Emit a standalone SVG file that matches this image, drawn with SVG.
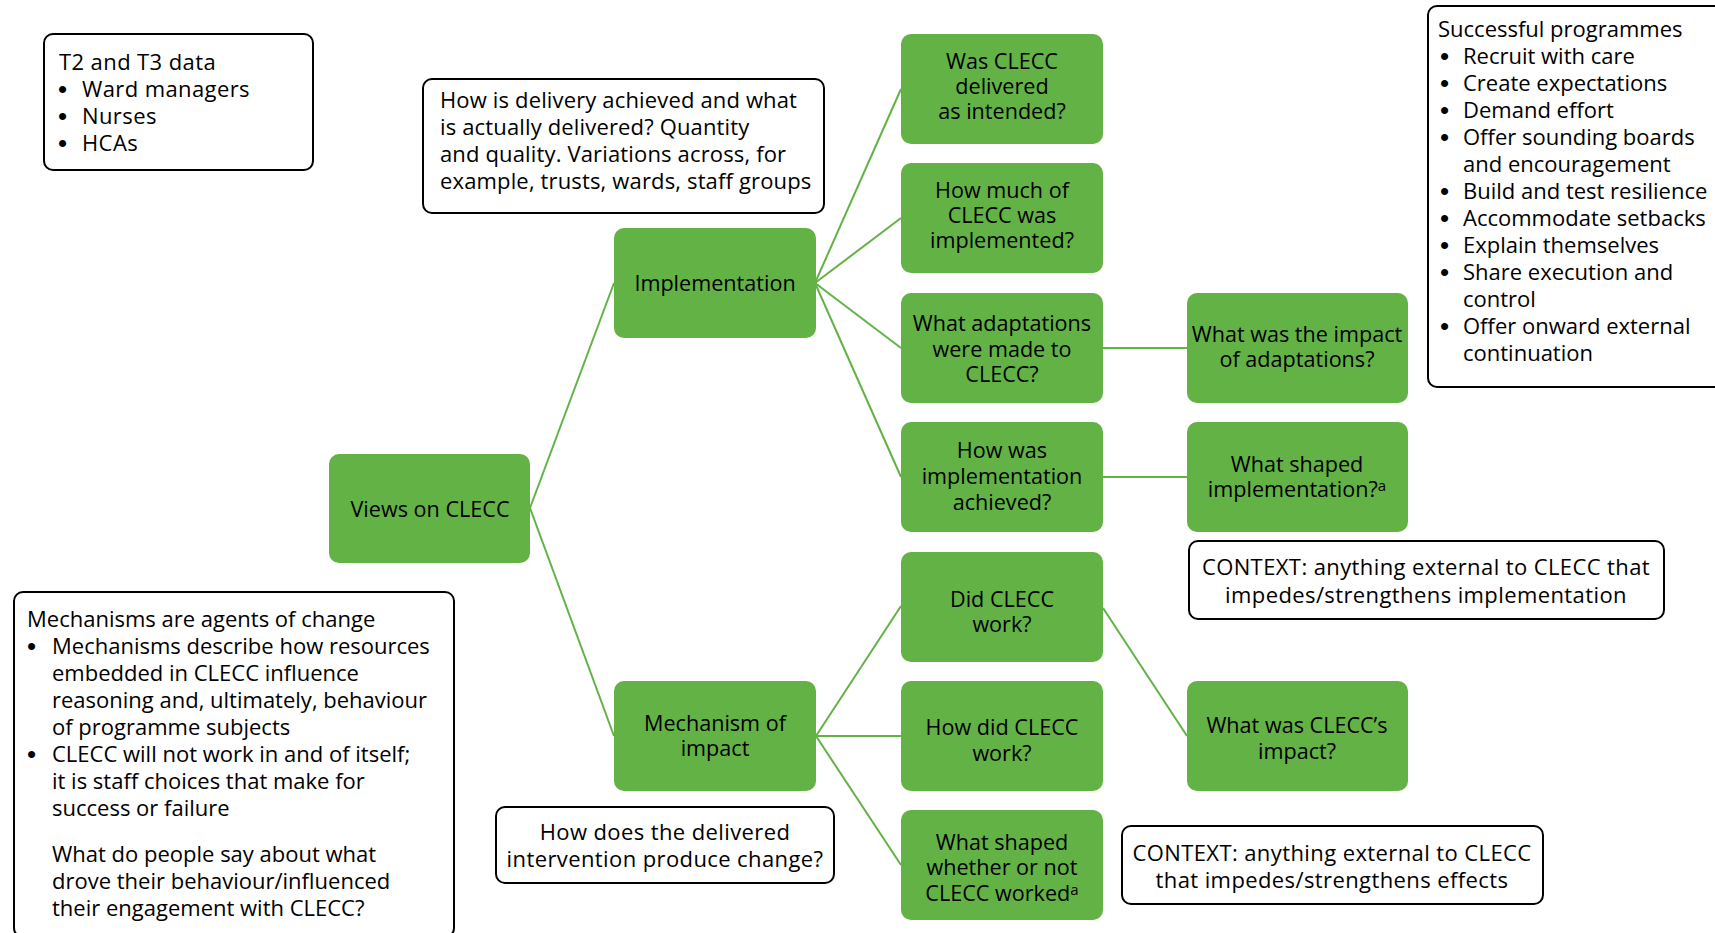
<svg xmlns="http://www.w3.org/2000/svg" width="1715" height="933" viewBox="0 0 1715 933">
<style>
text{font-family:"Open Sans","Noto Sans","Liberation Sans",sans-serif;font-size:22px;fill:#000}
.g{fill:#63b246}
.gn text{font-size:21.6px}
.w{fill:#fff;stroke:#000;stroke-width:2}
.c{text-anchor:middle}
.s{letter-spacing:0.4px}
.s2{letter-spacing:0.15px}
.b{font-family:"Liberation Sans",sans-serif;font-size:26px}
.con line{stroke:#63b246;stroke-width:2}
.sup{font-size:15px}
</style>
<rect width="1715" height="933" fill="#fff"/>
<g class="con">
<line x1="530" y1="508" x2="614" y2="283"/>
<line x1="530" y1="508" x2="614" y2="736"/>
<line x1="815" y1="283" x2="901" y2="89"/>
<line x1="815" y1="283" x2="901" y2="218"/>
<line x1="815" y1="283" x2="901" y2="348"/>
<line x1="815" y1="283" x2="901" y2="477"/>
<line x1="816" y1="736" x2="901" y2="606"/>
<line x1="816" y1="736" x2="901" y2="736"/>
<line x1="816" y1="736" x2="901" y2="865"/>
<line x1="1103" y1="348" x2="1187" y2="348"/>
<line x1="1103" y1="477" x2="1187" y2="477"/>
<line x1="1103" y1="608" x2="1187" y2="736"/>
</g>
<g id="t2t3" class="s">
<rect class="w" x="44" y="34" width="269" height="136" rx="9"/>
<text x="59" y="70">T2 and T3 data</text>
<text class="b" x="58" y="98">•</text><text x="82" y="97">Ward managers</text>
<text class="b" x="58" y="125">•</text><text x="82" y="124">Nurses</text>
<text class="b" x="58" y="152">•</text><text x="82" y="151">HCAs</text>
</g>
<g id="delivery" class="s2">
<rect class="w" x="423" y="79" width="401" height="134" rx="9"/>
<text x="440" y="108">How is delivery achieved and what</text>
<text x="440" y="135">is actually delivered? Quantity</text>
<text x="440" y="162">and quality. Variations across, for</text>
<text x="440" y="189">example, trusts, wards, staff groups</text>
</g>
<g id="successful">
<rect class="w" x="1428" y="6" width="300" height="381" rx="9"/>
<text x="1438" y="37">Successful programmes</text>
<text class="b" x="1440" y="65">•</text><text x="1463" y="64">Recruit with care</text>
<text class="b" x="1440" y="92">•</text><text x="1463" y="91">Create expectations</text>
<text class="b" x="1440" y="119">•</text><text x="1463" y="118">Demand effort</text>
<text class="b" x="1440" y="146">•</text><text x="1463" y="145">Offer sounding boards</text>
<text x="1463" y="172">and encouragement</text>
<text class="b" x="1440" y="200">•</text><text x="1463" y="199">Build and test resilience</text>
<text class="b" x="1440" y="227">•</text><text x="1463" y="226">Accommodate setbacks</text>
<text class="b" x="1440" y="254">•</text><text x="1463" y="253">Explain themselves</text>
<text class="b" x="1440" y="281">•</text><text x="1463" y="280">Share execution and</text>
<text x="1463" y="307">control</text>
<text class="b" x="1440" y="335">•</text><text x="1463" y="334">Offer onward external</text>
<text x="1463" y="361">continuation</text>
</g>
<g id="mechanisms">
<rect class="w" x="14" y="592" width="440" height="345" rx="9"/>
<text x="27" y="627">Mechanisms are agents of change</text>
<text class="b" x="27" y="655">•</text><text x="52" y="654">Mechanisms describe how resources</text>
<text x="52" y="681">embedded in CLECC influence</text>
<text x="52" y="708">reasoning and, ultimately, behaviour</text>
<text x="52" y="735">of programme subjects</text>
<text class="b" x="27" y="763">•</text><text x="52" y="762">CLECC will not work in and of itself;</text>
<text x="52" y="789">it is staff choices that make for</text>
<text x="52" y="816">success or failure</text>
<text x="52" y="862">What do people say about what</text>
<text x="52" y="889">drove their behaviour/influenced</text>
<text x="52" y="916">their engagement with CLECC?</text>
</g>
<g id="howdoes" class="s">
<rect class="w" x="496" y="807" width="338" height="76" rx="9"/>
<text class="c" x="665" y="840">How does the delivered</text>
<text class="c" x="665" y="867">intervention produce change?</text>
</g>
<g id="context1" class="s">
<rect class="w" x="1189" y="541" width="475" height="78" rx="9"/>
<text class="c" x="1426" y="575">CONTEXT: anything external to CLECC that</text>
<text class="c" x="1426" y="603">impedes/strengthens implementation</text>
</g>
<g id="context2" class="s">
<rect class="w" x="1122" y="826" width="421" height="78" rx="9"/>
<text class="c" x="1332" y="861">CONTEXT: anything external to CLECC</text>
<text class="c" x="1332" y="888">that impedes/strengthens effects</text>
</g>
<g id="views" class="gn">
<rect class="g" x="329" y="454" width="201" height="109" rx="10"/>
<text class="c" x="430" y="517">Views on CLECC</text>
</g>
<g id="implementation" class="gn">
<rect class="g" x="614" y="228" width="202" height="110" rx="10"/>
<text class="c" x="715" y="291">Implementation</text>
</g>
<g id="mechanism" class="gn">
<rect class="g" x="614" y="681" width="202" height="110" rx="10"/>
<text class="c" x="715" y="731">Mechanism of</text>
<text class="c" x="715" y="756">impact</text>
</g>
<g id="delivered" class="gn">
<rect class="g" x="901" y="34" width="202" height="110" rx="10"/>
<text class="c" x="1002" y="69">Was CLECC</text>
<text class="c" x="1002" y="94">delivered</text>
<text class="c" x="1002" y="119">as intended?</text>
</g>
<g id="howmuch" class="gn">
<rect class="g" x="901" y="163" width="202" height="110" rx="10"/>
<text class="c" x="1002" y="198">How much of</text>
<text class="c" x="1002" y="223">CLECC was</text>
<text class="c" x="1002" y="248">implemented?</text>
</g>
<g id="adaptations" class="gn">
<rect class="g" x="901" y="293" width="202" height="110" rx="10"/>
<text class="c" x="1002" y="331">What adaptations</text>
<text class="c" x="1002" y="357">were made to</text>
<text class="c" x="1002" y="382">CLECC?</text>
</g>
<g id="howwas" class="gn">
<rect class="g" x="901" y="422" width="202" height="110" rx="10"/>
<text class="c" x="1002" y="458">How was</text>
<text class="c" x="1002" y="484">implementation</text>
<text class="c" x="1002" y="510">achieved?</text>
</g>
<g id="didwork" class="gn">
<rect class="g" x="901" y="552" width="202" height="110" rx="10"/>
<text class="c" x="1002" y="607">Did CLECC</text>
<text class="c" x="1002" y="632">work?</text>
</g>
<g id="howdid" class="gn">
<rect class="g" x="901" y="681" width="202" height="110" rx="10"/>
<text class="c" x="1002" y="735">How did CLECC</text>
<text class="c" x="1002" y="761">work?</text>
</g>
<g id="shapedworked" class="gn">
<rect class="g" x="901" y="810" width="202" height="110" rx="10"/>
<text class="c" x="1002" y="850">What shaped</text>
<text class="c" x="1002" y="875">whether or not</text>
<text class="c" x="1002" y="901">CLECC worked<tspan class="sup" dy="-6">a</tspan></text>
</g>
<g id="impactadapt" class="gn">
<rect class="g" x="1187" y="293" width="221" height="110" rx="10"/>
<text class="c" x="1297" y="342">What was the impact</text>
<text class="c" x="1297" y="367">of adaptations?</text>
</g>
<g id="shapedimpl" class="gn">
<rect class="g" x="1187" y="422" width="221" height="110" rx="10"/>
<text class="c" x="1297" y="472">What shaped</text>
<text class="c" x="1297" y="497">implementation?<tspan class="sup" dy="-6">a</tspan></text>
</g>
<g id="impact" class="gn">
<rect class="g" x="1187" y="681" width="221" height="110" rx="10"/>
<text class="c" x="1297" y="733">What was CLECC’s</text>
<text class="c" x="1297" y="759">impact?</text>
</g>
</svg>
